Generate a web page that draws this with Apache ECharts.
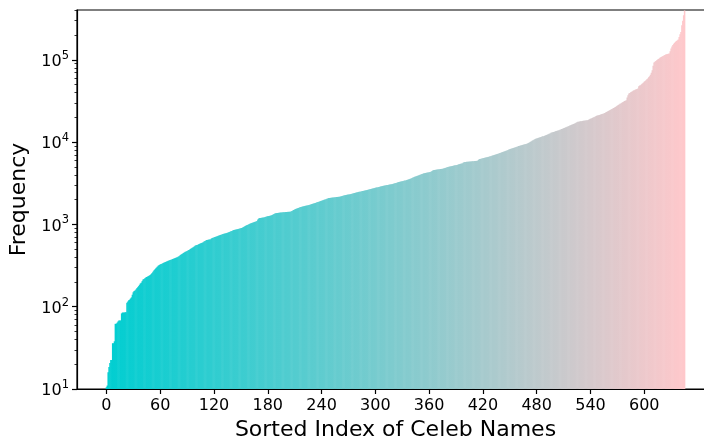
<!DOCTYPE html>
<html>
<head>
<meta charset="utf-8">
<script src="https://cdn.jsdelivr.net/npm/echarts@6/dist/echarts.min.js"></script>
<style>
html,body{margin:0;padding:0;background:#fff;}
#chart{width:704px;height:439px;}
</style>
</head>
<body>
<div id="chart"></div>
<script>
// Sorted frequency of each celeb name (index 0..645)
const frequencies = [
10.5, 11, 16, 18.5, 20.7, 22.5, 22.5, 36, 36, 38,
62, 62, 64, 66, 68, 68, 68, 83, 85, 85,
85, 86, 86, 112, 116, 120, 122, 126, 130, 140,
150, 155, 158, 162, 168, 172, 178, 185, 192, 196,
205, 215, 218, 222, 226, 230, 233, 236, 240, 243,
250, 258, 266, 275, 284, 292, 300, 308, 316, 322,
327, 330, 334, 338, 342, 346, 350, 354, 358, 362,
366, 369, 372, 376, 380, 384, 388, 392, 396, 400,
405, 412, 420, 428, 435, 442, 450, 458, 465, 470,
475, 482, 490, 498, 506, 514, 522, 530, 540, 550,
558, 562, 568, 575, 582, 589, 595, 600, 610, 620,
630, 640, 646, 650, 654, 657, 659, 672, 685, 690,
697, 702, 708, 715, 722, 730, 737, 743, 750, 758,
765, 770, 775, 780, 786, 792, 800, 808, 816, 825,
835, 845, 855, 860, 865, 870, 876, 882, 888, 893,
897, 905, 918, 930, 945, 960, 975, 985, 995, 1010,
1020, 1030, 1040, 1050, 1060, 1070, 1080, 1090, 1100, 1150,
1180, 1197, 1200, 1205, 1210, 1215, 1220, 1230, 1240, 1250,
1258, 1265, 1272, 1280, 1290, 1300, 1320, 1340, 1364, 1370,
1375, 1380, 1385, 1390, 1395, 1400, 1403, 1406, 1410, 1413,
1416, 1419, 1422, 1425, 1427, 1428, 1440, 1460, 1480, 1500,
1520, 1540, 1555, 1570, 1585, 1600, 1615, 1630, 1641, 1652,
1663, 1674, 1685, 1696, 1707, 1718, 1729, 1740, 1754, 1768,
1782, 1796, 1810, 1825, 1840, 1857, 1874, 1891, 1908, 1925,
1942, 1960, 1979, 1997, 2015, 2033, 2051, 2070, 2093, 2100,
2107, 2114, 2121, 2128, 2135, 2142, 2149, 2156, 2163, 2168,
2172, 2185, 2200, 2215, 2230, 2245, 2260, 2275, 2290, 2305,
2312, 2320, 2336, 2352, 2368, 2384, 2400, 2416, 2432, 2448,
2464, 2480, 2496, 2500, 2516, 2532, 2548, 2564, 2580, 2596,
2612, 2628, 2648, 2667, 2684, 2701, 2718, 2735, 2752, 2770,
2790, 2808, 2824, 2842, 2860, 2878, 2896, 2914, 2932, 2950,
2968, 2987, 3000, 3014, 3028, 3042, 3056, 3070, 3084, 3098,
3120, 3145, 3170, 3195, 3220, 3245, 3276, 3296, 3316, 3336,
3356, 3376, 3396, 3416, 3434, 3465, 3496, 3527, 3560, 3592,
3630, 3680, 3724, 3760, 3796, 3832, 3868, 3904, 3940, 3981,
4020, 4060, 4100, 4140, 4177, 4200, 4225, 4250, 4275, 4300,
4325, 4350, 4367, 4450, 4520, 4577, 4595, 4613, 4631, 4649,
4667, 4685, 4703, 4721, 4739, 4750, 4790, 4830, 4870, 4910,
4950, 4990, 5024, 5054, 5084, 5114, 5144, 5174, 5204, 5234,
5267, 5300, 5340, 5380, 5420, 5460, 5500, 5522, 5620, 5729,
5740, 5755, 5770, 5785, 5800, 5815, 5830, 5845, 5860, 5875,
5890, 5905, 5920, 5932, 5944, 6080, 6233, 6270, 6310, 6350,
6390, 6430, 6470, 6510, 6550, 6590, 6630, 6680, 6730, 6776,
6830, 6890, 6950, 7010, 7070, 7130, 7190, 7250, 7310, 7380,
7450, 7520, 7590, 7660, 7730, 7800, 7880, 7960, 8060, 8166,
8230, 8300, 8370, 8440, 8510, 8580, 8650, 8730, 8810, 8890,
8975, 9040, 9110, 9180, 9250, 9320, 9390, 9460, 9530, 9600,
9670, 9800, 9950, 10100, 10250, 10400, 10550, 10700, 10850, 11000,
11100, 11200, 11300, 11400, 11500, 11600, 11700, 11800, 11860, 11990,
12120, 12250, 12380, 12510, 12640, 12800, 13000, 13110, 13220, 13330,
13440, 13550, 13660, 13780, 13900, 14020, 14170, 14320, 14470, 14620,
14770, 14920, 15070, 15220, 15380, 15560, 15740, 15920, 16100, 16280,
16460, 16640, 16820, 17000, 17200, 17450, 17700, 17780, 17860, 17940,
18020, 18100, 18180, 18260, 18340, 18420, 18500, 18550, 18780, 19010,
19240, 19470, 19700, 19930, 20160, 20400, 20750, 20930, 21110, 21290,
21470, 21650, 21830, 22010, 22200, 22390, 22700, 23010, 23320, 23640,
23960, 24280, 24600, 24920, 25300, 25720, 26100, 26500, 26900, 27300,
27800, 28300, 28760, 29300, 29600, 30100, 30600, 31100, 31600, 32000,
32430, 35000, 37300, 39100, 39800, 40500, 41200, 41800, 42400, 42950,
43500, 44000, 44500, 45000, 48040, 48800, 49400, 50500, 51600, 52800,
54200, 55500, 56800, 58200, 59700, 61500, 63500, 66000, 70000, 75200,
85000, 93300, 95000, 97000, 99000, 101000, 103000, 105000, 107000, 109000,
110500, 112000, 113500, 115000, 116500, 117500, 118500, 119300, 120000, 128000,
138000, 146000, 152000, 158000, 162000, 166000, 170000, 174000, 177000, 190000,
205000, 219000, 265000, 300000, 350000, 400000
];
const xTickLabels = [0, 60, 120, 180, 240, 300, 360, 420, 480, 540, 600];
const yMajorTicks = [10, 100, 1000, 10000, 100000];
const xAxisTitle = 'Sorted Index of Celeb Names';
const yAxisTitle = 'Frequency';

const n = frequencies.length;
const barData = frequencies.map((v, i) => [i, v]);
const yMinorTicks = [];
for (let e = 1; e <= 5; e++) {
  for (let k = 2; k <= 9; k++) {
    const v = k * Math.pow(10, e);
    if (v <= 405000) yMinorTicks.push(v);
  }
}
const FONT = 'DejaVu Sans';

const chart = echarts.init(document.getElementById('chart'), null, {renderer: 'canvas'});
const xMin = -0.5 - 0.05 * n;
const xMax = n - 0.5 + 0.05 * n;

chart.setOption({
  animation: false,
  backgroundColor: '#ffffff',
  textStyle: {fontFamily: FONT, color: '#000'},
  grid: {left: 77, top: 10, right: -10, bottom: 50, show: true, borderColor: '#000', borderWidth: 1.2,
         containLabel: false, outerBoundsMode: 'none'},
  xAxis: {
    type: 'value', min: xMin, max: xMax,
    name: xAxisTitle, nameLocation: 'middle', nameGap: 30,
    nameTextStyle: {fontSize: 22, fontFamily: FONT, color: '#000'},
    axisLine: {show: true, onZero: false, lineStyle: {color: '#000', width: 1.2}},
    axisTick: {show: true, length: 5, lineStyle: {color: '#000', width: 1.2}, customValues: xTickLabels},
    axisLabel: {fontSize: 16, color: '#000', fontFamily: FONT, margin: 9, customValues: xTickLabels},
    splitLine: {show: false}
  },
  yAxis: [{
    type: 'log', logBase: 10, min: 10, max: 405000,
    name: yAxisTitle, nameLocation: 'middle', nameGap: 46, nameRotate: 90,
    nameTextStyle: {fontSize: 22, fontFamily: FONT, color: '#000'},
    axisLine: {show: true, onZero: false, lineStyle: {color: '#000', width: 1.2}},
    axisTick: {show: true, length: 5, lineStyle: {color: '#000', width: 1.2}, customValues: yMajorTicks},
    axisLabel: {
      color: '#000', fontFamily: FONT, margin: 8, customValues: yMajorTicks,
      formatter: function (v) {
        const e = Math.round(Math.log10(v));
        return '{b|10}{s|' + e + '}';
      },
      rich: {
        b: {fontSize: 16, fontFamily: FONT, color: '#000', padding: [4, 0, 0, 0]},
        s: {fontSize: 11.5, fontFamily: FONT, color: '#000', padding: [0, 0, 8, 0]}
      }
    },
    splitLine: {show: false}
  }, {
    type: 'log', logBase: 10, min: 10, max: 405000, position: 'left',
    axisLine: {show: false, onZero: false},
    axisTick: {show: true, length: 2.5, lineStyle: {color: '#000', width: 0.8}, customValues: yMinorTicks},
    axisLabel: {show: false},
    splitLine: {show: false}
  }],
  series: [{
    type: 'bar',
    data: barData,
    barWidth: 1.5,
    xAxisIndex: 0, yAxisIndex: 0,
    itemStyle: {
      color: {
        type: 'linear', x: 106, y: 0, x2: 685, y2: 0, global: true,
        colorStops: [{offset: 0, color: '#00CED1'}, {offset: 1, color: '#FFC8CB'}]
      }
    }
  }]
});
</script>
</body>
</html>
